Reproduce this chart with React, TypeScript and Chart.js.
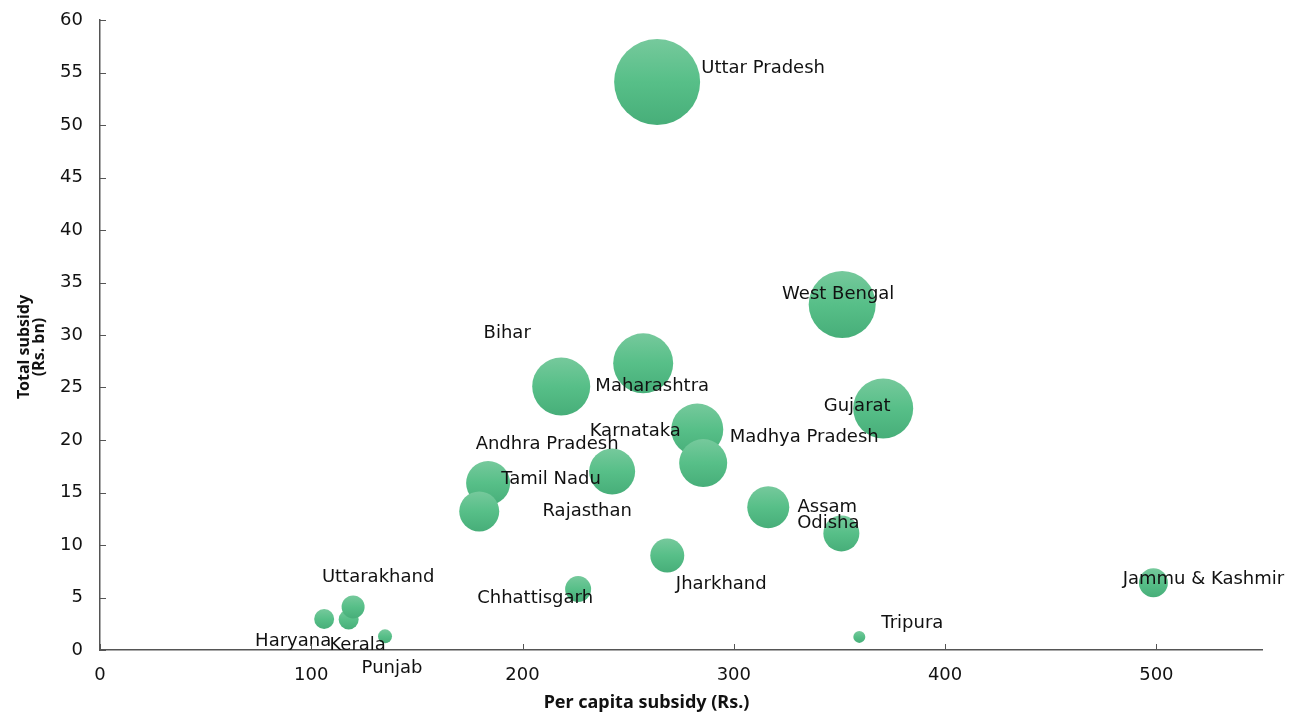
import React, { useEffect, useRef } from "react";
import { Chart, registerables } from "chart.js";

Chart.register(...registerables);

// ---- Data ----
const states = [
  "Uttar Pradesh", "West Bengal", "Bihar", "Maharashtra", "Gujarat",
  "Karnataka", "Madhya Pradesh", "Andhra Pradesh", "Tamil Nadu", "Rajasthan",
  "Assam", "Odisha", "Jharkhand", "Chhattisgarh", "Jammu & Kashmir",
  "Tripura", "Haryana", "Kerala", "Uttarakhand", "Punjab",
];
const perCapitaSubsidy = [
  263.7, 351.3, 257.1, 218.3, 370.7,
  282.7, 285.5, 242.4, 183.7, 179.5,
  316.3, 350.9, 268.5, 226.3, 498.6,
  359.4, 106.1, 117.7, 119.8, 134.9,
];
const totalSubsidy = [
  54.1, 32.9, 27.3, 25.1, 23.0,
  21.0, 17.8, 17.0, 15.9, 13.2,
  13.6, 11.1, 9.0, 5.8, 6.4,
  1.25, 2.95, 2.9, 4.1, 1.3,
];
const bubbleSize = [
  43, 33.5, 30, 29, 30,
  26, 24, 23, 22, 20,
  21, 18, 17, 13, 14.5,
  6, 10, 10, 11.5, 7,
];
// label placement relative to bubble centre (px)
const labelOffsets = [
  [106, -14], [-4, -10], [-136, -30], [91, 0], [-26, -2],
  [-62, 2], [101, -26], [-65, -27], [63, -4], [108, 0],
  [59, 0], [-13, -10], [54, 29], [-43, 9], [50, -3],
  [53, -14], [-31, 22], [9, 26], [25, -30], [7, 32],
];
const xTickValues = [0, 100, 200, 300, 400, 500];
const yTickValues = [0, 5, 10, 15, 20, 25, 30, 35, 40, 45, 50, 55, 60];
const xAxisTitle = "Per capita subsidy (Rs.)";
const yAxisTitle = ["Total subsidy", "(Rs. bn)"];

const LABEL_FONT = '18px "DejaVu Sans"';
const TICK_FONT_FAMILY = '"DejaVu Sans"';

const overlayPlugin = {
  id: "overlay",
  afterDatasetsDraw(chart: any) {
    const { ctx, scales } = chart;
    const xs = scales.x;
    const ys = scales.y;
    ctx.save();
    ctx.font = LABEL_FONT;
    ctx.fillStyle = "#111111";
    ctx.textAlign = "center";
    ctx.textBaseline = "middle";
    states.forEach((name, i) => {
      const px = xs.getPixelForValue(perCapitaSubsidy[i]);
      const py = ys.getPixelForValue(totalSubsidy[i]);
      ctx.fillText(name, px + labelOffsets[i][0], py + labelOffsets[i][1]);
    });
    ctx.restore();
  },
  afterDraw(chart: any) {
    const { ctx, scales, chartArea, width } = chart;
    const xs = scales.x;
    const ys = scales.y;
    ctx.save();
    // inward tick marks
    ctx.strokeStyle = "#555555";
    ctx.lineWidth = 1;
    xTickValues.forEach((v) => {
      const px = Math.round(xs.getPixelForValue(v)) + 0.5;
      ctx.beginPath();
      ctx.moveTo(px, chartArea.bottom);
      ctx.lineTo(px, chartArea.bottom - 6);
      ctx.stroke();
    });
    yTickValues.forEach((v) => {
      const py = Math.round(ys.getPixelForValue(v)) + 0.5;
      ctx.beginPath();
      ctx.moveTo(chartArea.left, py);
      ctx.lineTo(chartArea.left + 6, py);
      ctx.stroke();
    });
    // axis titles
    ctx.fillStyle = "#111111";
    ctx.textAlign = "center";
    ctx.textBaseline = "alphabetic";
    ctx.font = 'bold 18px "Noto Sans"';
    ctx.fillText(xAxisTitle, width / 2, 708);
    ctx.font = 'bold 16px "Noto Sans"';
    yAxisTitle.forEach((line, i) => {
      ctx.save();
      ctx.translate(29 + i * 15, 347);
      ctx.rotate(-Math.PI / 2);
      ctx.fillText(line, 0, 0);
      ctx.restore();
    });
    ctx.restore();
  },
};

export default function App() {
  const canvasRef = useRef<HTMLCanvasElement | null>(null);

  useEffect(() => {
    const canvas = canvasRef.current;
    if (!canvas) return;
    const points = states.map((_, i) => ({
      x: perCapitaSubsidy[i],
      y: totalSubsidy[i],
      r: bubbleSize[i],
    }));

    const chart = new Chart(canvas, {
      type: "bubble",
      data: {
        datasets: [
          {
            label: "States",
            data: points,
            clip: false as any,
            borderWidth: 0,
            backgroundColor: (c: any) => {
              const ch = c.chart;
              if (c.type !== "data" || !ch.chartArea || !ch.scales.y) return "#56bd87";
              const raw = c.raw;
              const py = ch.scales.y.getPixelForValue(raw.y);
              const g = ch.ctx.createLinearGradient(0, py - raw.r, 0, py + raw.r);
              g.addColorStop(0, "#76c99c");
              g.addColorStop(0.5, "#57bf88");
              g.addColorStop(1, "#47ae79");
              return g;
            },
          } as any,
        ],
      },
      options: {
        responsive: false,
        animation: false,
        events: [],
        layout: { autoPadding: false, padding: { top: 20, right: 31, left: 0, bottom: 0 } },
        plugins: {
          legend: { display: false },
          tooltip: { enabled: false },
          title: { display: false },
        },
        scales: {
          x: {
            type: "linear",
            min: 0,
            max: 550,
            afterFit: (s: any) => {
              s.height = 63;
              s.paddingLeft = 0;
              s.paddingRight = 0;
              s.paddingTop = 0;
              s.paddingBottom = 0;
            },
            afterBuildTicks: (s: any) => {
              s.ticks = xTickValues.map((v) => ({ value: v }));
            },
            grid: { display: true, drawOnChartArea: false, drawTicks: false, color: "rgba(0,0,0,0)" },
            border: { display: true, color: "#555555", width: 1.5 },
            ticks: {
              padding: 15,
              color: "#111111",
              font: { family: TICK_FONT_FAMILY, size: 18 },
              maxRotation: 0,
            },
          },
          y: {
            type: "linear",
            min: 0,
            max: 60,
            afterFit: (s: any) => {
              s.width = 100;
              s.paddingLeft = 0;
              s.paddingRight = 0;
              s.paddingTop = 0;
              s.paddingBottom = 0;
            },
            afterBuildTicks: (s: any) => {
              s.ticks = yTickValues.map((v) => ({ value: v }));
            },
            grid: { display: true, drawOnChartArea: false, drawTicks: false, color: "rgba(0,0,0,0)" },
            border: { display: true, color: "#555555", width: 1.5 },
            ticks: {
              padding: 17,
              color: "#111111",
              font: { family: TICK_FONT_FAMILY, size: 18 },
            },
          },
        },
      },
      plugins: [overlayPlugin],
    });

    return () => chart.destroy();
  }, []);

  return (
    <div style={{ position: "fixed", left: 0, top: 0, width: 1293, height: 713, background: "#ffffff" }}>
      <canvas ref={canvasRef} width={1293} height={713} style={{ display: "block", width: 1293, height: 713 }} />
    </div>
  );
}
